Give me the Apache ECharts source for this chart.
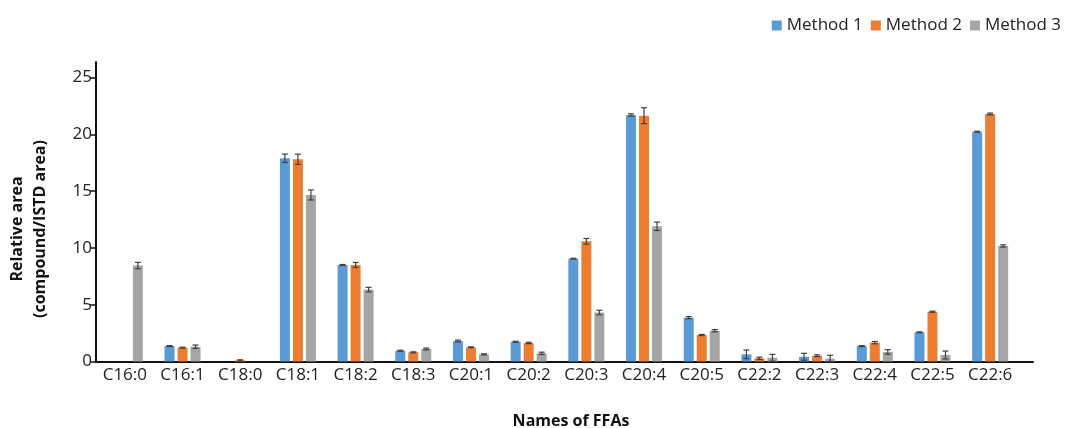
<!DOCTYPE html>
<html>
<head>
<meta charset="utf-8">
<script src="https://cdn.jsdelivr.net/npm/echarts@6/dist/echarts.min.js"></script>
<style>
  html, body { margin: 0; padding: 0; background: #fff; }
  #chart { width: 1069px; height: 428px; }
</style>
</head>
<body>
<div id="chart"></div>
<script>
// Free fatty acids measured
const categories = ['C16:0', 'C16:1', 'C18:0', 'C18:1', 'C18:2', 'C18:3', 'C20:1', 'C20:2',
  'C20:3', 'C20:4', 'C20:5', 'C22:2', 'C22:3', 'C22:4', 'C22:5', 'C22:6'];

const seriesNames = ['Method 1', 'Method 2', 'Method 3'];

// Mean relative area (compound / ISTD area) per method
const method1 = [0, 1.36, 0, 17.89, 8.50, 0.95, 1.80, 1.74, 9.05, 21.70, 3.86, 0.63, 0.42, 1.36, 2.57, 20.23];
const method2 = [0, 1.22, 0.10, 17.80, 8.50, 0.81, 1.25, 1.63, 10.58, 21.64, 2.33, 0.28, 0.51, 1.66, 4.38, 21.79];
const method3 = [8.45, 1.30, 0, 14.66, 6.33, 1.10, 0.63, 0.72, 4.31, 11.90, 2.71, 0.33, 0.25, 0.84, 0.57, 10.17];

// Standard deviations
const err1 = [0, 0.04, 0, 0.37, 0.04, 0.04, 0.08, 0.04, 0.04, 0.10, 0.10, 0.38, 0.30, 0.04, 0.04, 0.04];
const err2 = [0, 0.04, 0.05, 0.45, 0.22, 0.04, 0.04, 0.06, 0.25, 0.70, 0.05, 0.10, 0.08, 0.10, 0.05, 0.08];
const err3 = [0.28, 0.15, 0, 0.44, 0.20, 0.08, 0.05, 0.10, 0.20, 0.37, 0.10, 0.30, 0.30, 0.20, 0.35, 0.10];

const yTicks = [0, 5, 10, 15, 20, 25];

const colors = ['#5B9BD5', '#ED7D31', '#A5A5A5'];
const FONT = '"Open Sans", "Noto Sans", sans-serif';
const BAR_W = 10;
const BAR_GAP = 3;

const means = [method1, method2, method3];
const errs = [err1, err2, err3];

// error bar items: [category index, mean, sd, series index]
const errorData = [];
means.forEach((arr, k) => {
  arr.forEach((v, i) => {
    if (errs[k][i] > 0) errorData.push([i, v, errs[k][i], k]);
  });
});

function renderErrorBar(params, api) {
  const i = api.value(0), v = api.value(1), e = api.value(2), k = api.value(3);
  const dx = (k - 1) * (BAR_W + BAR_GAP);
  const top = api.coord([i, v + e]);
  const bot = api.coord([i, Math.max(0, v - e)]);
  const x = top[0] + dx;
  const cap = 3;
  const style = { stroke: '#404040', lineWidth: 1.2 };
  return {
    type: 'group',
    children: [
      { type: 'line', shape: { x1: x, y1: top[1], x2: x, y2: bot[1] }, style },
      { type: 'line', shape: { x1: x - cap, y1: top[1], x2: x + cap, y2: top[1] }, style },
      { type: 'line', shape: { x1: x - cap, y1: bot[1], x2: x + cap, y2: bot[1] }, style }
    ]
  };
}

const chart = echarts.init(document.getElementById('chart'));

chart.setOption({
  animation: false,
  backgroundColor: '#ffffff',
  color: colors,
  textStyle: { fontFamily: FONT },
  legend: {
    data: seriesNames,
    right: 3,
    top: 12,
    itemWidth: 10,
    itemHeight: 10,
    itemGap: 8,
    icon: 'rect',
    textStyle: { fontFamily: FONT, fontSize: 17, color: '#222' }
  },
  grid: [
    // plotting area
    { left: 96, right: 50, top: 77.5, bottom: 66.5, containLabel: false },
    // frame carrying the extended axis lines
    { left: 96, right: 36, top: 62, bottom: 66.5, containLabel: false }
  ],
  xAxis: [
    {
      gridIndex: 0,
      type: 'category',
      data: categories,
      axisLine: { show: false },
      axisTick: { show: false },
      axisLabel: { fontFamily: FONT, fontSize: 17, color: '#222', margin: 5, interval: 0 }
    },
    {
      gridIndex: 1,
      type: 'value',
      min: 0, max: 1,
      axisLine: { show: true, onZero: false, lineStyle: { color: '#111', width: 2 } },
      axisTick: { show: false },
      axisLabel: { show: false },
      splitLine: { show: false }
    }
  ],
  yAxis: [
    {
      gridIndex: 0,
      type: 'value',
      min: yTicks[0],
      max: yTicks[yTicks.length - 1],
      interval: yTicks[1] - yTicks[0],
      axisLine: { show: false },
      axisTick: { show: true, length: 6, lineStyle: { color: '#111', width: 1.5 } },
      axisLabel: { fontFamily: FONT, fontSize: 17, color: '#222', margin: 4 },
      splitLine: { show: false }
    },
    {
      gridIndex: 1,
      type: 'value',
      min: 0, max: 1,
      axisLine: { show: true, onZero: false, lineStyle: { color: '#111', width: 2 } },
      axisTick: { show: false },
      axisLabel: { show: false },
      splitLine: { show: false }
    }
  ],
  graphic: [
    {
      type: 'text',
      x: 29, y: 229,
      rotation: Math.PI / 2,
      style: {
        text: 'Relative area\n(compound/ISTD area)',
        font: 'bold 16px ' + FONT,
        fill: '#111',
        textAlign: 'center',
        textVerticalAlign: 'middle',
        lineHeight: 23
      }
    },
    {
      type: 'text',
      x: 571, y: 421,
      style: {
        text: 'Names of FFAs',
        font: 'bold 16px ' + FONT,
        fill: '#111',
        textAlign: 'center',
        textVerticalAlign: 'middle'
      }
    }
  ],
  series: [
    ...seriesNames.map((name, k) => ({
      name,
      type: 'bar',
      xAxisIndex: 0,
      yAxisIndex: 0,
      data: means[k],
      barWidth: BAR_W,
      barGap: (BAR_GAP / BAR_W * 100) + '%',
      itemStyle: { color: colors[k] }
    })),
    {
      type: 'custom',
      name: 'sd',
      xAxisIndex: 0,
      yAxisIndex: 0,
      data: errorData,
      encode: { x: 0, y: 1 },
      renderItem: renderErrorBar,
      z: 5,
      silent: true
    }
  ]
});
</script>
</body>
</html>
